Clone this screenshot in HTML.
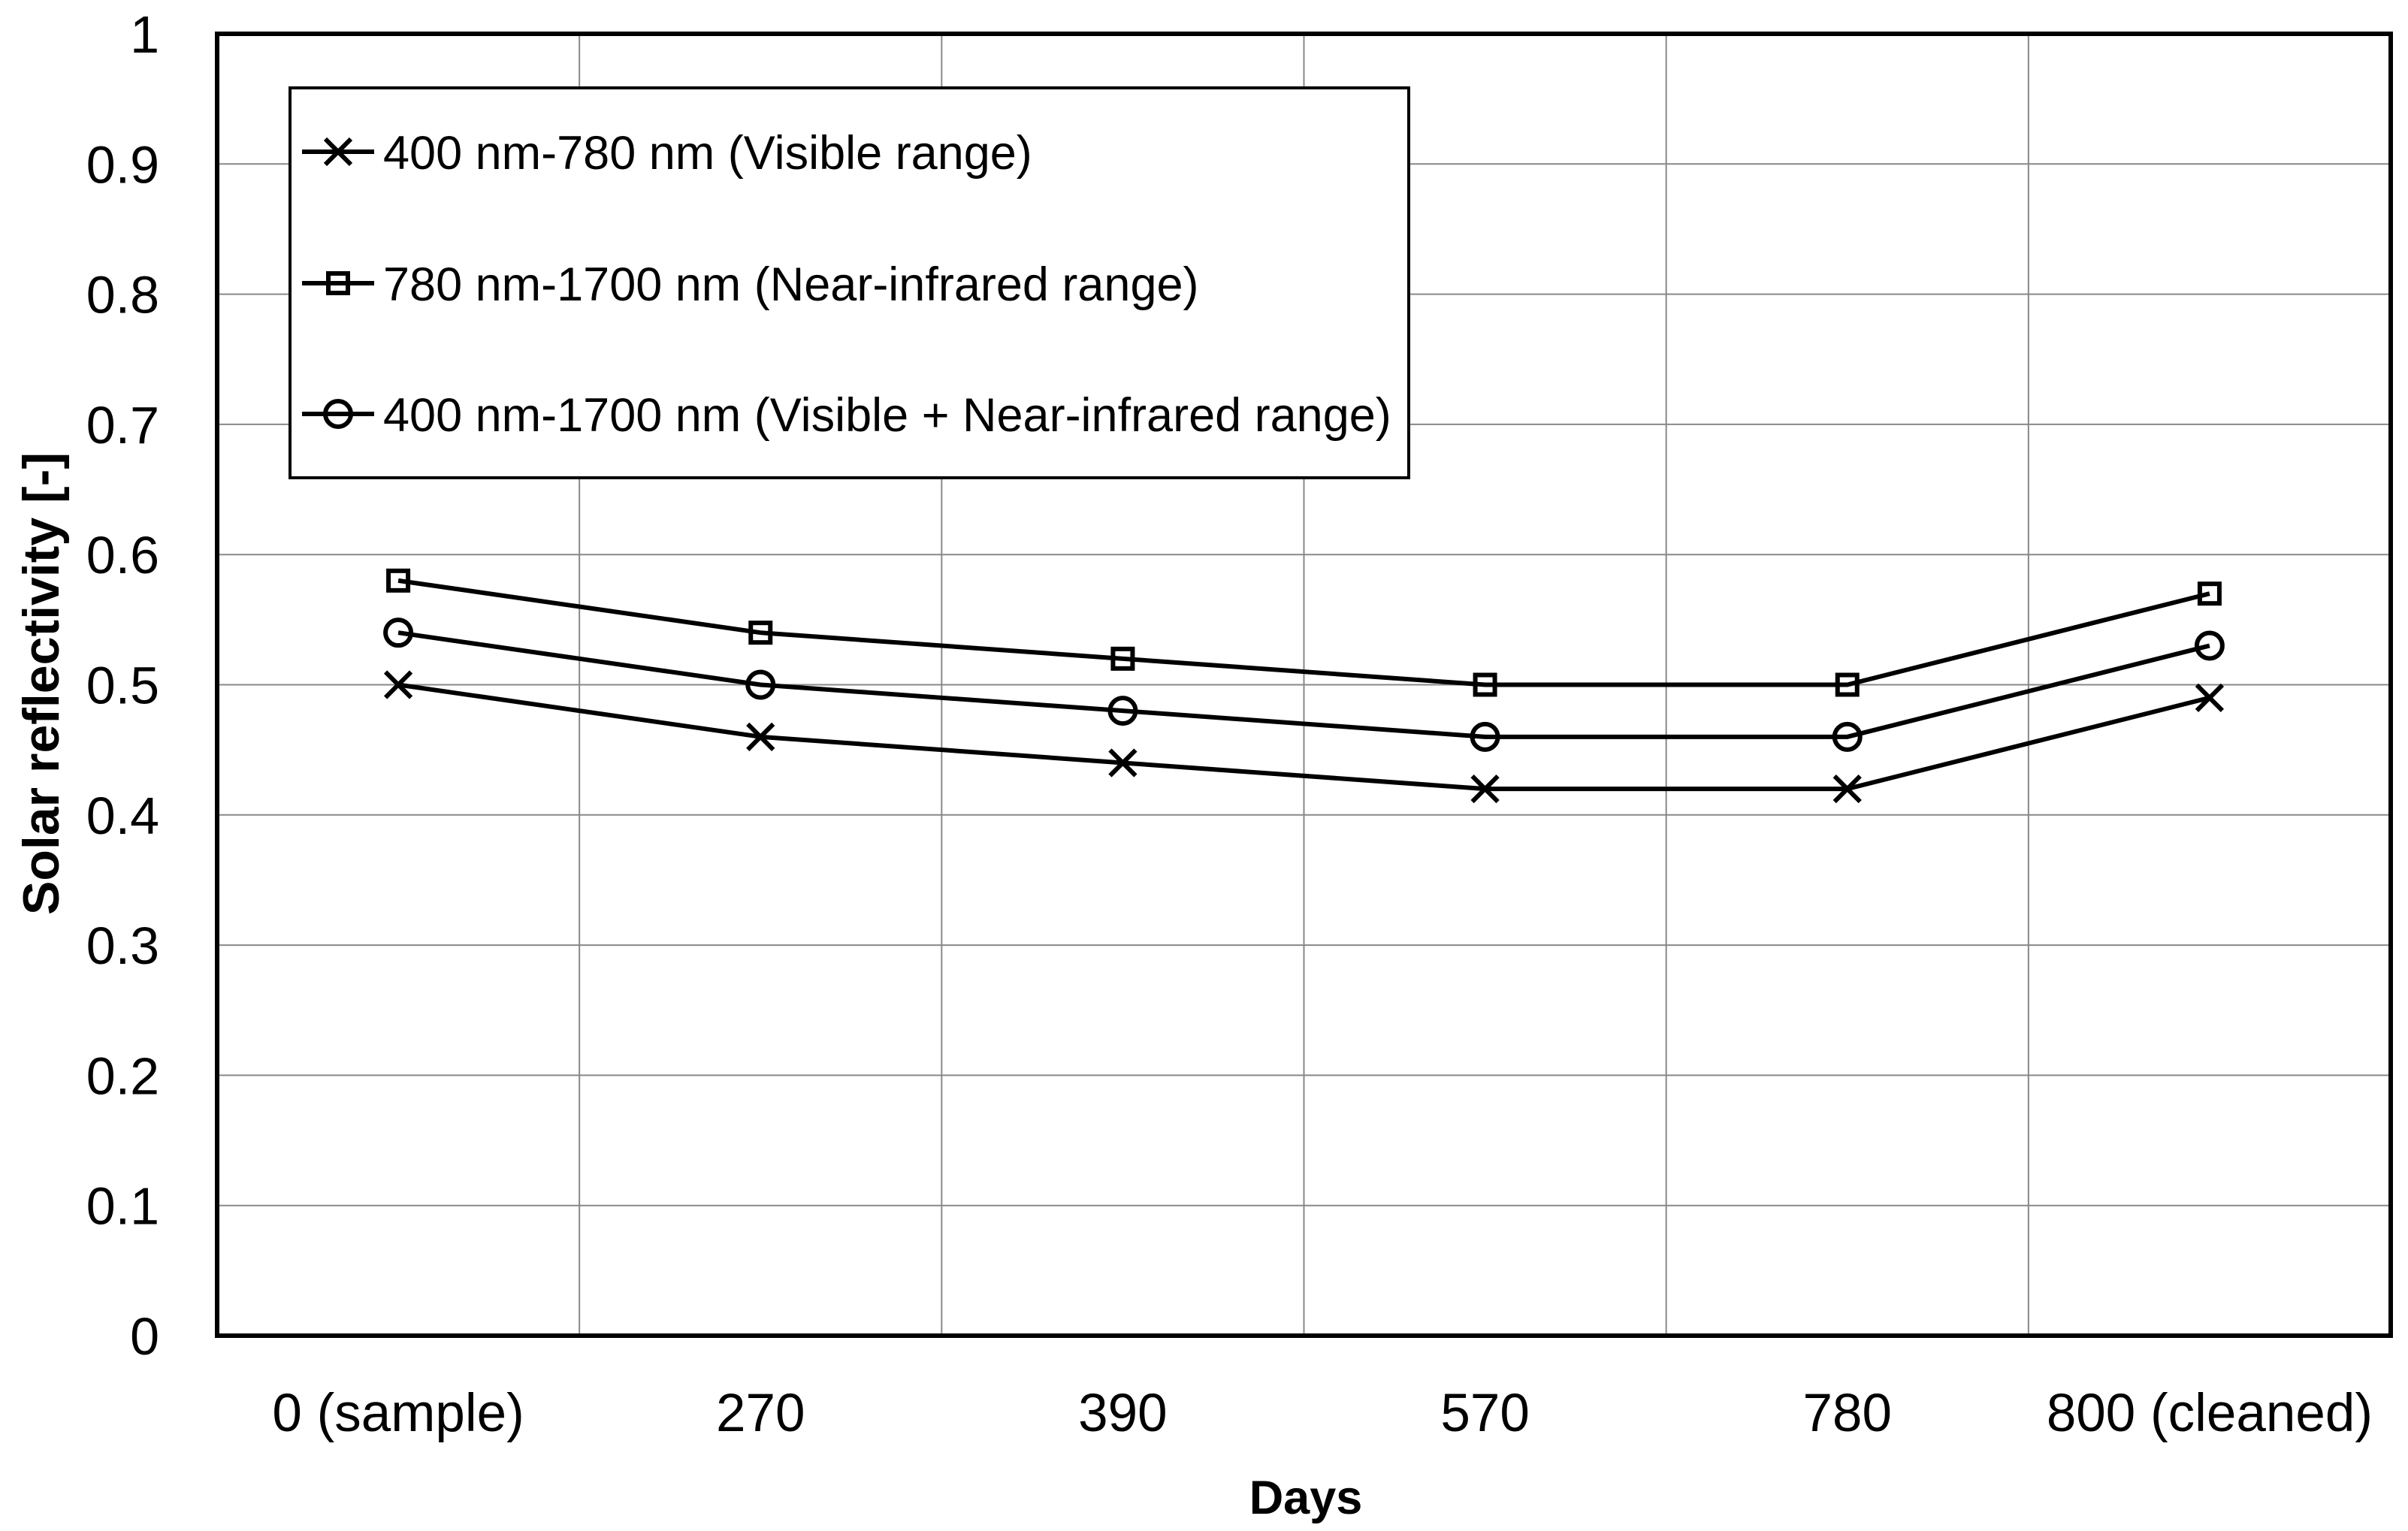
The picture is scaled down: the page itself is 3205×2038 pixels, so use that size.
<!DOCTYPE html>
<html><head><meta charset="utf-8">
<style>
html,body{margin:0;padding:0;background:#fff;}
svg{display:block;font-family:"Liberation Sans",sans-serif;}
</style></head>
<body>
<svg id="chart" width="3205" height="2038" viewBox="0 0 3205 2038" xmlns="http://www.w3.org/2000/svg">
<rect width="3205" height="2038" fill="#fff"/>
<g id="grid"></g>
<g id="yticks"></g>
<g id="xticks"></g>
<g id="series"></g>
<rect x="289" y="45" width="2893" height="1733" fill="none" stroke="#000" stroke-width="6"/>
<text transform="translate(78,910) rotate(-90)" text-anchor="middle" font-size="68" font-weight="bold">Solar reflectivity [-]</text>
<text x="1738" y="2015" text-anchor="middle" font-size="63" font-weight="bold">Days</text>
<g>
<rect x="386" y="117" width="1489" height="519" fill="#fff" stroke="#000" stroke-width="4"/>
<g id="legend-items"></g>
</g>
</svg>
<script>
const categories = ["0 (sample)", "270", "390", "570", "780", "800 (cleaned)"];
const visible = [0.50, 0.46, 0.44, 0.42, 0.42, 0.49];
const nearInfrared = [0.58, 0.54, 0.52, 0.50, 0.50, 0.57];
const combined = [0.54, 0.50, 0.48, 0.46, 0.46, 0.53];
const yTicks = [0, 0.1, 0.2, 0.3, 0.4, 0.5, 0.6, 0.7, 0.8, 0.9, 1];
const yTickLabels = ["0", "0.1", "0.2", "0.3", "0.4", "0.5", "0.6", "0.7", "0.8", "0.9", "1"];
const legendLabels = ["400 nm-780 nm (Visible range)", "780 nm-1700 nm (Near-infrared range)", "400 nm-1700 nm (Visible + Near-infrared range)"];

const NS = "http://www.w3.org/2000/svg";
const L = 289, R = 3182, T = 45, B = 1778;
const bw = (R - L) / categories.length;
function xScale(i){ return L + bw * (i + 0.5); }
function yScale(v){ return B - (B - T) * v; }
function mk(tag, attrs, parent){
  const e = document.createElementNS(NS, tag);
  for (const k in attrs) e.setAttribute(k, attrs[k]);
  parent.appendChild(e); return e;
}
const grid = document.getElementById('grid');
yTicks.forEach((v, i) => {
  if (v > 0 && v < 1) {
    const ln = mk('line', {x1:L, x2:R, y1:yScale(v), y2:yScale(v), stroke:'#888', 'stroke-width':2}, grid);
    
    
  }
  const t = mk('text', {x:212, y:yScale(v)+25, 'text-anchor':'end', 'font-size':70}, document.getElementById('yticks'));
  t.textContent = yTickLabels[i];
  
  
});
categories.forEach((c, i) => {
  if (i > 0) {
    const ln = mk('line', {x1:L+bw*i, x2:L+bw*i, y1:T, y2:B, stroke:'#888', 'stroke-width':2}, grid);
    
    
  }
  const t = mk('text', {x:xScale(i), y:1905, 'text-anchor':'middle', 'font-size':71}, document.getElementById('xticks'));
  t.textContent = c;
  
  
});
function marker(type, x, y, parent){
  let m;
  if (type === 'x') {
    m = mk('path', {d:`M${x-17},${y-17}L${x+17},${y+17}M${x-17},${y+17}L${x+17},${y-17}`, stroke:'#000', 'stroke-width':6, fill:'none'}, parent);
  } else if (type === 'square') {
    m = mk('rect', {x:x-13, y:y-13, width:26, height:26, stroke:'#000', 'stroke-width':6, fill:'none'}, parent);
  } else {
    m = mk('circle', {cx:x, cy:y, r:17, stroke:'#000', 'stroke-width':6, fill:'none'}, parent);
  }
  return m;
}
const seriesDefs = [[visible,'x','series-visible'],[nearInfrared,'square','series-near-infrared'],[combined,'circle','series-combined']];
const sg = document.getElementById('series');
seriesDefs.forEach(([vals, type, name]) => {
  const g = mk('g', {}, sg);
  
  
  const pts = vals.map((v, i) => `${xScale(i)},${yScale(v)}`).join(' ');
  const pl = mk('polyline', {points:pts, fill:'none', stroke:'#000', 'stroke-width':6}, g);
  
  
  vals.forEach((v, i) => {
    const m = marker(type, xScale(i), yScale(v), g);
    
    
  });
});
const li = document.getElementById('legend-items');
const legendY = [202, 377, 551];
['x','square','circle'].forEach((type, i) => {
  const g = mk('g', {}, li);
  
  
  mk('line', {x1:402, x2:498, y1:legendY[i], y2:legendY[i], stroke:'#000', 'stroke-width':6}, g);
  marker(type, 450, legendY[i], g);
  const t = mk('text', {x:510, y:legendY[i]+23, 'font-size':63}, g);
  t.textContent = legendLabels[i];
});
</script>
</body></html>
